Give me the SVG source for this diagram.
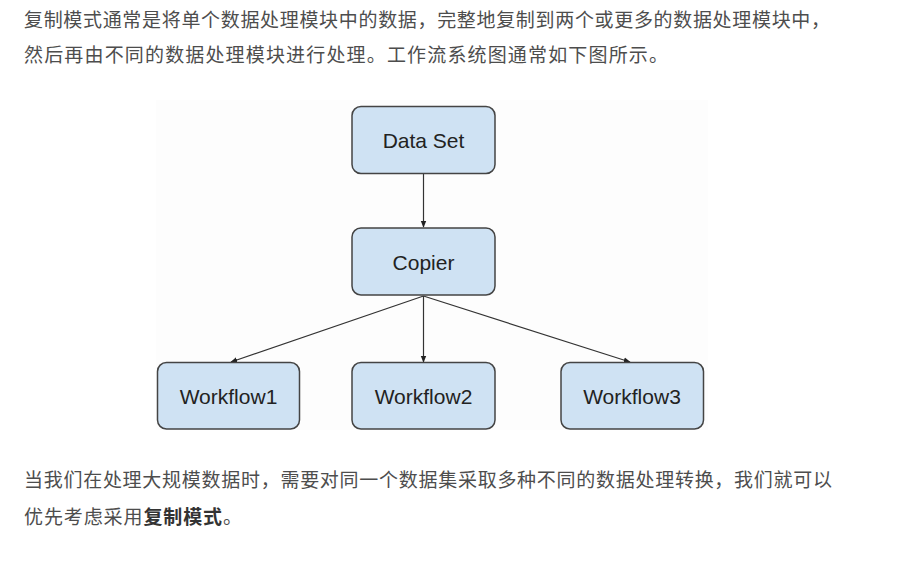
<svg xmlns="http://www.w3.org/2000/svg" width="909" height="569" viewBox="0 0 909 569">
<defs>
<style>
.p{font-family:"Noto Sans CJK SC","Noto Sans",sans-serif;font-size:19px;fill:#4d4d4d}
.b{font-weight:bold;fill:#333}
.box{fill:#cfe2f3;stroke:#444;stroke-width:1.5}
.lbl{font-family:"Liberation Sans",Arial,sans-serif;font-size:21px;fill:#222;text-anchor:middle}
.edge{stroke:#333;stroke-width:1.2;fill:none;marker-end:url(#arr)}
</style>
<marker id="arr" viewBox="0 0 10 10" refX="9" refY="5" markerWidth="7" markerHeight="7" markerUnits="userSpaceOnUse" orient="auto">
<path d="M0,1 L10,5 L0,9 z" fill="#222"/>
</marker>
</defs>
<rect width="909" height="569" fill="#fff"/>
<rect x="156" y="100" width="552" height="330" fill="#fdfdfd"/>
<text class="p" x="24" y="27" textLength="806" lengthAdjust="spacing">复制模式通常是将单个数据处理模块中的数据，完整地复制到两个或更多的数据处理模块中，</text>
<text class="p" x="24" y="62" textLength="644" lengthAdjust="spacing">然后再由不同的数据处理模块进行处理。工作流系统图通常如下图所示。</text>
<text class="p" x="24" y="487" textLength="808" lengthAdjust="spacing">当我们在处理大规模数据时，需要对同一个数据集采取多种不同的数据处理转换，我们就可以</text>
<text class="p" x="24" y="524" textLength="218" lengthAdjust="spacing">优先考虑采用<tspan class="b">复制模式</tspan>。</text>
<g id="connectors">
<line class="edge" x1="423.5" y1="173" x2="423.5" y2="227"/>
<line class="edge" x1="423.5" y1="296" x2="231" y2="362"/>
<line class="edge" x1="423.5" y1="296" x2="423.5" y2="362"/>
<line class="edge" x1="423.5" y1="296" x2="630" y2="362"/>
</g>
<g id="dataset">
<rect class="box" x="352" y="106.5" width="143" height="67" rx="9"/>
<text class="lbl" x="423.5" y="148">Data Set</text>
</g>
<g id="copier">
<rect class="box" x="352" y="228" width="143" height="67" rx="9"/>
<text class="lbl" x="423.5" y="269.5">Copier</text>
</g>
<g id="workflow1">
<rect class="box" x="157.5" y="362.5" width="142" height="66.5" rx="9"/>
<text class="lbl" x="228.5" y="403.5">Workflow1</text>
</g>
<g id="workflow2">
<rect class="box" x="352" y="362.5" width="143" height="66.5" rx="9"/>
<text class="lbl" x="423.5" y="403.5">Workflow2</text>
</g>
<g id="workflow3">
<rect class="box" x="561" y="362.5" width="142.5" height="66.5" rx="9"/>
<text class="lbl" x="632" y="403.5">Workflow3</text>
</g>
</svg>
